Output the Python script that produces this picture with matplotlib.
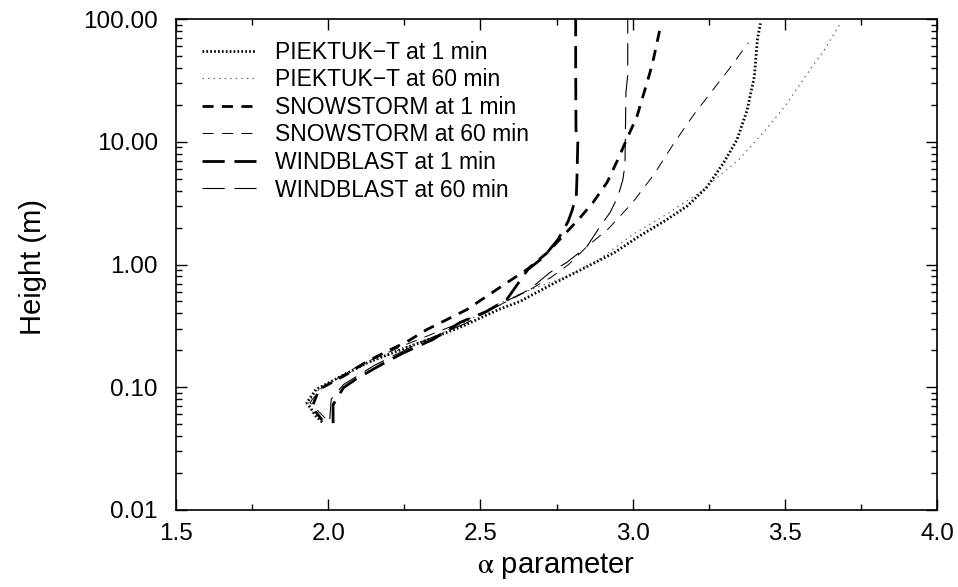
import matplotlib
matplotlib.use("Agg")
import matplotlib.pyplot as plt
from matplotlib.ticker import FixedLocator, LogLocator, NullFormatter, FormatStrFormatter

plt.rcParams['font.family'] = ['Liberation Sans', 'DejaVu Sans']
plt.rcParams['mathtext.fontset'] = 'stix'
plt.rcParams['lines.scale_dashes'] = False

# ---- data (alpha parameter vs height) ----
piek1_x = [1.98, 1.96, 1.93, 1.96, 2.04, 2.13, 2.24, 2.33, 2.44, 2.56, 2.63, 2.74, 2.85, 2.94, 3.02, 3.11, 3.18, 3.245, 3.30, 3.343, 3.376, 3.40, 3.41, 3.42]
piek1_y = [0.052, 0.058, 0.075, 0.096, 0.122, 0.159, 0.203, 0.245, 0.313, 0.43, 0.50, 0.70, 0.96, 1.25, 1.69, 2.3, 3.0, 4.3, 6.8, 10.4, 18.0, 34.0, 68.0, 92.0]

piek60_x = [1.95, 1.93, 1.96, 2.05, 2.15, 2.25, 2.35, 2.45, 2.56, 2.67, 2.785, 2.89, 3.0, 3.11, 3.22, 3.35, 3.43, 3.50, 3.59, 3.63, 3.68]
piek60_y = [0.062, 0.072, 0.092, 0.125, 0.165, 0.21, 0.26, 0.34, 0.48, 0.63, 0.80, 1.10, 1.75, 2.55, 3.86, 7.2, 11.9, 19.4, 41.0, 56.0, 90.0]

snow1_x = [1.98, 1.947, 1.97, 2.06, 2.127, 2.193, 2.26, 2.325, 2.39, 2.456, 2.52, 2.587, 2.653, 2.72, 2.78, 2.827, 2.87, 2.916, 2.952, 2.98, 3.014, 3.034, 3.057, 3.07, 3.08, 3.093]
snow1_y = [0.054, 0.069, 0.096, 0.127, 0.162, 0.196, 0.236, 0.296, 0.356, 0.43, 0.55, 0.71, 0.91, 1.25, 1.8, 2.4, 3.2, 4.66, 7.2, 10.4, 16.0, 23.4, 36.6, 49.0, 64.0, 90.0]

snow60_x = [1.99, 1.94, 1.98, 2.10, 2.25, 2.40, 2.55, 2.65, 2.73, 2.79, 2.85, 2.92, 3.00, 3.07, 3.133, 3.20, 3.264, 3.32, 3.38]
snow60_y = [0.056, 0.075, 0.10, 0.15, 0.22, 0.31, 0.45, 0.60, 0.78, 1.0, 1.4, 1.95, 3.2, 5.4, 9.5, 16.5, 26.5, 40.0, 64.0]

wind1_x = [2.016, 2.016, 2.05, 2.09, 2.147, 2.187, 2.246, 2.344, 2.433, 2.52, 2.587, 2.656, 2.706, 2.755, 2.788, 2.80, 2.815, 2.817, 2.82, 2.814, 2.813, 2.813]
wind1_y = [0.051, 0.072, 0.099, 0.116, 0.14, 0.159, 0.19, 0.245, 0.337, 0.414, 0.52, 0.91, 1.14, 1.6, 2.24, 2.7, 3.6, 4.9, 10.0, 12.5, 40.0, 100.0]

wind60_x = [2.005, 2.01, 2.05, 2.15, 2.30, 2.45, 2.597, 2.663, 2.728, 2.784, 2.85, 2.893, 2.926, 2.952, 2.968, 2.975, 2.978, 2.984, 2.984]
wind60_y = [0.055, 0.08, 0.105, 0.15, 0.23, 0.33, 0.52, 0.63, 0.86, 1.04, 1.4, 2.04, 2.65, 3.6, 4.9, 6.5, 25.0, 35.0, 100.0]

labels = ["PIEKTUK\u2212T at 1 min", "PIEKTUK\u2212T at 60 min",
          "SNOWSTORM at 1 min", "SNOWSTORM at 60 min",
          "WINDBLAST at 1 min", "WINDBLAST at 60 min"]

x_ticks = [1.5, 2.0, 2.5, 3.0, 3.5, 4.0]
y_ticks = [0.01, 0.1, 1, 10, 100]

fig = plt.figure(figsize=(9.58, 5.87), dpi=100)
ax = fig.add_axes([176/958, 1 - 510/587, (937 - 176)/958, (510 - 19)/587])

ax.plot(piek1_x, piek1_y, color='black', lw=2.0, dashes=(1.2, 1.6), label=labels[0])
ax.plot(piek60_x, piek60_y, color='#555555', lw=0.8, dashes=(1.0, 3.0), label=labels[1])
ax.plot(snow1_x, snow1_y, color='black', lw=2.0, dashes=(8.0, 6.0), label=labels[2])
ax.plot(snow60_x, snow60_y, color='black', lw=0.7, dashes=(8.0, 6.0), label=labels[3])
ax.plot(wind1_x, wind1_y, color='black', lw=2.0, dashes=(16, 7), label=labels[4])
ax.plot(wind60_x, wind60_y, color='black', lw=0.8, dashes=(16, 7), label=labels[5])

ax.set_yscale('log')
ax.set_xlim(1.5, 4.0)
ax.set_ylim(0.01, 100)
ax.xaxis.set_major_locator(FixedLocator(x_ticks))
ax.xaxis.set_minor_locator(FixedLocator([1.75, 2.25, 2.75, 3.25, 3.75]))
ax.xaxis.set_major_formatter(FormatStrFormatter('%.1f'))
ax.yaxis.set_major_locator(FixedLocator(y_ticks))
ax.yaxis.set_minor_locator(LogLocator(base=10, subs=range(2, 10)))
ax.yaxis.set_minor_formatter(NullFormatter())
ax.yaxis.set_major_formatter(FormatStrFormatter('%.2f'))

ax.tick_params(which='both', direction='in', top=True, right=True, labelsize=17.5, width=1.0)
ax.tick_params(axis='x', which='major', length=8, pad=9)
ax.tick_params(axis='y', which='major', length=8, pad=13)
ax.tick_params(which='minor', length=4)
for s in ax.spines.values():
    s.set_linewidth(1.2)

ax.set_xlabel(r'$\mathrm{\alpha}$ parameter', fontsize=21)
ax.set_ylabel('Height (m)', fontsize=21)
ax.xaxis.set_label_coords(0.5, -0.083)
ax.yaxis.set_label_coords(-0.17, 0.495)

leg = ax.legend(loc='upper left', frameon=False, fontsize=16.5, handlelength=2.35,
                labelspacing=0.2, handletextpad=0.85, borderaxespad=0.0,
                borderpad=0.0, bbox_to_anchor=(0.034, 0.956))

fig.savefig('out.png', dpi=100)
